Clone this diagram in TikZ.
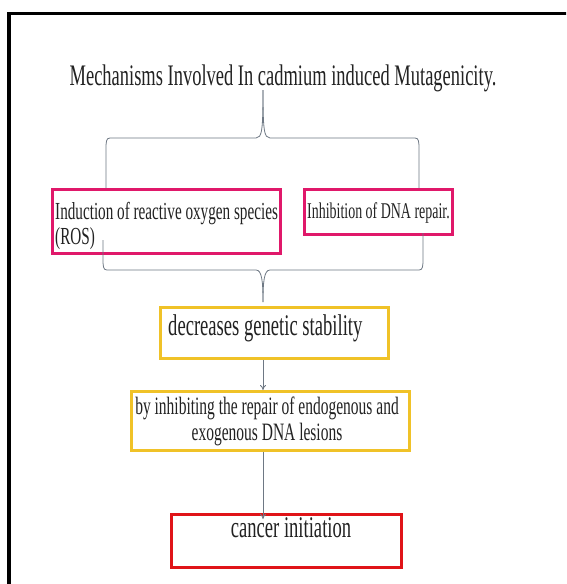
\documentclass[tikz,border=0pt]{standalone}
\usepackage{fontspec}
\setmainfont{Liberation Serif}[FakeStretch=0.62]
\usetikzlibrary{arrows.meta}
\definecolor{pinkc}{HTML}{E0186A}
\definecolor{yelc}{HTML}{F0C228}
\definecolor{redc}{HTML}{E01418}
\definecolor{linec}{HTML}{6E7884}
\definecolor{textc}{HTML}{222222}
\begin{document}
\begin{tikzpicture}[x=1pt,y=-1pt,
  box/.style={draw,line width=3pt,inner sep=0pt,anchor=north west},
  txt/.style={inner sep=0pt,text=textc},
  conn/.style={draw=linec,line width=0.8pt},
  arr/.style={conn,-{To[length=5pt,width=6pt]}}]
\useasboundingbox (0,0) rectangle (566,584);
\clip (0,0) rectangle (566,584);
\fill[white] (0,0) rectangle (566,584);
\draw[line width=3.5pt] (9,13.5) rectangle (600,620);
% title
\node[txt,anchor=base] (title) at (283,85.5) {\fontsize{29.8}{34}\selectfont Mechanisms Involved In cadmium induced Mutagenicity.};
% pink boxes
\node[box,draw=pinkc,minimum width=228.5pt,minimum height=64pt] (ros) at (50.5,188) {};
\node[txt,anchor=base west,font=\fontsize{24.5}{28}\selectfont] (rosa) at (55,219) {Induction of reactive oxygen species};
\node[txt,anchor=base west,font=\fontsize{24.5}{28}\selectfont] (rosb) at (55,244) {(ROS)};
\node[box,draw=pinkc,minimum width=148pt,minimum height=45pt] (dna) at (303,188) {};
\node[txt,anchor=base west,font=\fontsize{22.5}{26}\selectfont] (dnatext) at (307,218) {Inhibition of DNA repair.};
% yellow boxes
\node[box,draw=yelc,minimum width=228pt,minimum height=51pt] (gen) at (159,306) {};
\node[txt,anchor=base west,font=\fontsize{30}{34}\selectfont] (gentext) at (168,335) {decreases genetic stability};
\node[box,draw=yelc,minimum width=278pt,minimum height=59pt] (rep) at (130,390) {};
\node[txt,anchor=base,font=\fontsize{25}{29}\selectfont] (repa) at (267,414) {by inhibiting the repair of endogenous and};
\node[txt,anchor=base,font=\fontsize{25}{29}\selectfont] (repb) at (267,440) {exogenous DNA lesions};
% red box
\node[box,draw=redc,minimum width=230pt,minimum height=53pt] (can) at (170,513) {};
\node[txt,anchor=base,font=\fontsize{30}{34}\selectfont] (cantext) at (291,537) {cancer initiation};
% braces
\coordinate (t1) at (263,90);
\coordinate (t2) at (263,302);
\draw[conn] (t1) .. controls (263,130) and (262,138) .. (256,138) -- (110,138)
  .. controls (106,138) and (106,142) .. (106,150) -- (106,188);
\draw[conn] (t1) .. controls (263,130) and (264,138) .. (270,138) -- (415,138)
  .. controls (419,138) and (419,142) .. (419,150) -- (419,188);
\draw[conn] (t2) .. controls (263,282) and (262,270) .. (256,270) -- (107,270)
  .. controls (103,270) and (103,266) .. (103,258) -- (103,240);
\draw[conn] (t2) .. controls (263,282) and (264,270) .. (270,270) -- (419,270)
  .. controls (423,270) and (423,266) .. (423,258) -- (423,233);
% arrows
\draw[arr] (gen.south west -| t1) -- (rep.north west -| t1);
\draw[arr] (rep.south west -| t1) -- ([yshift=-6pt]can.north west -| t1);
\end{tikzpicture}
\end{document}
